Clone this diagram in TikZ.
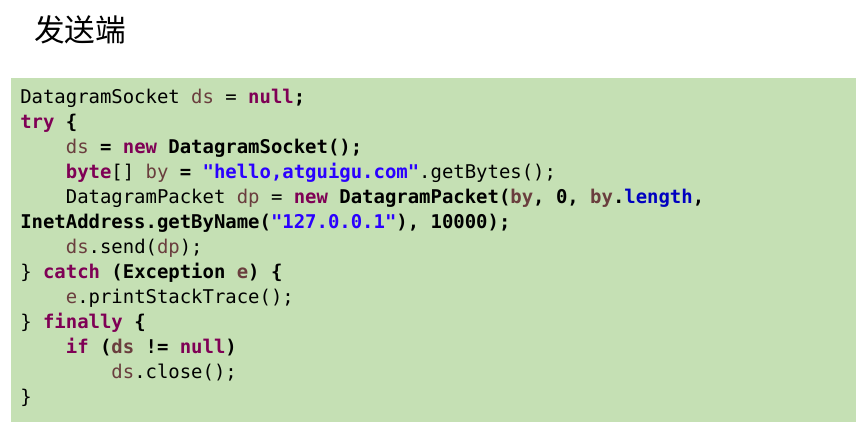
\documentclass[tikz,border=0pt]{standalone}
\usepackage{fontspec}
\newfontfamily\cjk{Noto Sans CJK SC}
\newfontfamily\codefont{DejaVu Sans Mono}
\usetikzlibrary{positioning}

\definecolor{codebg}{RGB}{197,224,180}
\definecolor{kwcol}{RGB}{127,0,85}
\definecolor{varcol}{RGB}{106,62,62}
\definecolor{strcol}{RGB}{42,0,255}
\definecolor{fldcol}{RGB}{0,0,192}

\newcommand{\kw}[1]{\textbf{\textcolor{kwcol}{#1}}}
\newcommand{\vr}[1]{\textcolor{varcol}{#1}}
\newcommand{\str}[1]{\textbf{\textcolor{strcol}{#1}}}
\newcommand{\fld}[1]{\textbf{\textcolor{fldcol}{#1}}}
\newcommand{\ind}[1]{\hspace*{#1\fontcharwd\font`0}}

\begin{document}
\begin{tikzpicture}
  [x=0.75pt,y=-0.75pt,
   titleN/.style={anchor=west,inner sep=0pt,font=\cjk\fontsize{23}{27}\selectfont},
   codeN/.style={anchor=base west,inner sep=0pt,font=\codefont\fontsize{14.2}{18.75}\selectfont}]

  \useasboundingbox (0,0) rectangle (863,426);
  \fill[codebg] (11,78) rectangle (856,422);

  \node[titleN] (title) at (34,30) {发送端};

  % code, one node per line
  \node[codeN] (l1)  at (20,103) {DatagramSocket \vr{ds} = \kw{null}\textbf{;}};
  \node[codeN] (l2)  at (20,128) {\kw{try} \textbf{\{}};
  \node[codeN] (l3)  at (20,153) {\ind{4}\vr{ds} \textbf{= \kw{new} DatagramSocket();}};
  \node[codeN] (l4)  at (20,178) {\ind{4}\kw{byte}[] \vr{by} \textbf{=} \str{"hello,atguigu.com"}.getBytes();};
  \node[codeN] (l5)  at (20,203) {\ind{4}DatagramPacket \vr{dp} = \textbf{\kw{new} DatagramPacket(\vr{by}, 0, \vr{by}.\fld{length},}};
  \node[codeN] (l6)  at (20,228) {\textbf{InetAddress.getByName(\str{"127.0.0.1"}), 10000);}};
  \node[codeN] (l7)  at (20,253) {\ind{4}\vr{ds}.send(\vr{dp});};
  \node[codeN] (l8)  at (20,278) {\} \kw{catch} \textbf{(Exception \vr{e}) \{}};
  \node[codeN] (l9)  at (20,303) {\ind{4}\vr{e}.printStackTrace();};
  \node[codeN] (l10) at (20,328) {\} \kw{finally} \textbf{\{}};
  \node[codeN] (l11) at (20,353) {\ind{4}\textbf{\kw{if} (\vr{ds} != \kw{null})}};
  \node[codeN] (l12) at (20,378) {\ind{8}\vr{ds}.close();};
  \node[codeN] (l13) at (20,403) {\}};

\end{tikzpicture}
\end{document}
